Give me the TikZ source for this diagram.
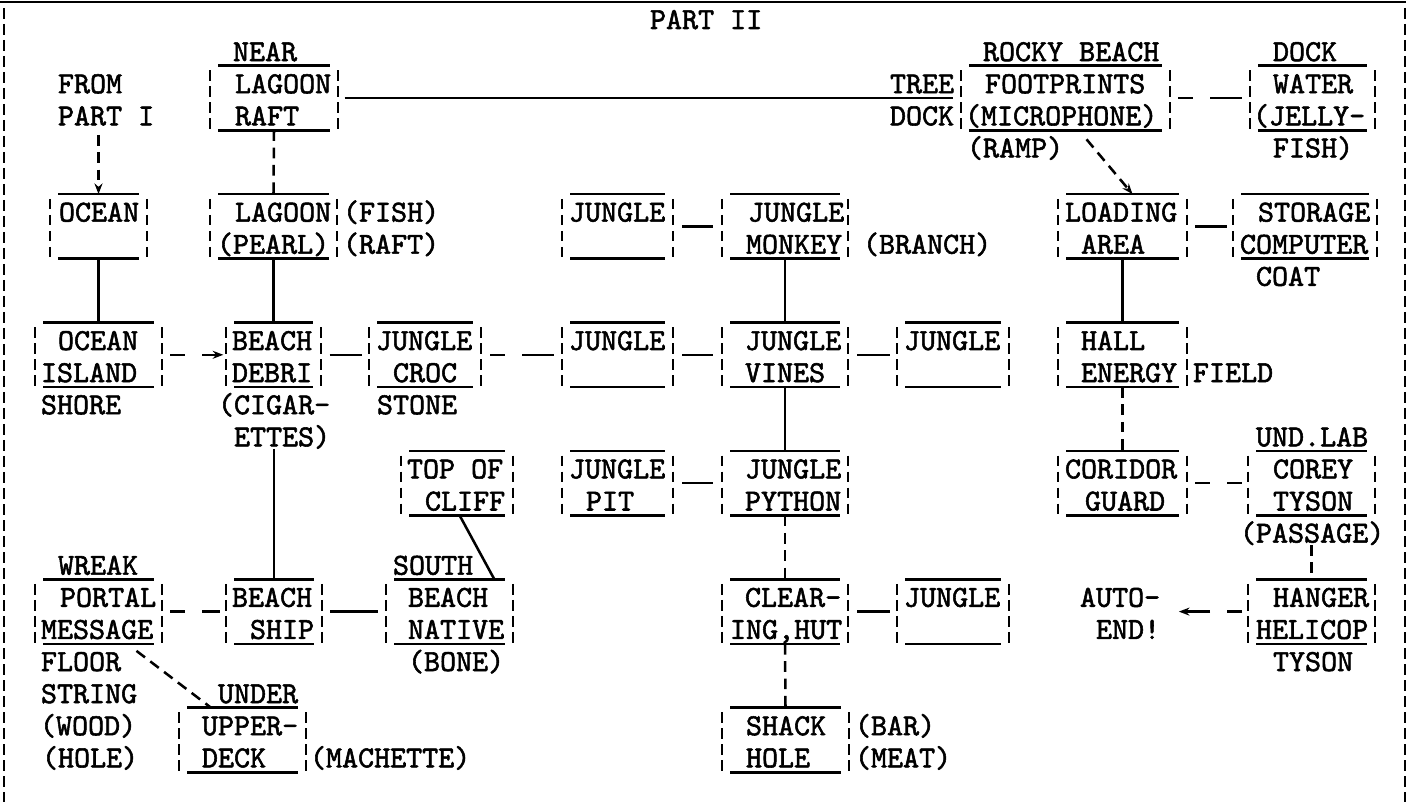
\documentclass[tikz,border=0pt]{standalone}
\usepackage{fontspec}
\newfontfamily\tw{lmmono10-regular}[Extension=.otf,FakeBold=1.8]
\usetikzlibrary{fit,calc,arrows.meta}
\tikzset{
  txt/.style={anchor=base west,inner sep=0pt,outer sep=0pt,font=\tw\fontsize{22.9}{27}\selectfont},
  boxline/.style={line width=1.9pt},
  barline/.style={line width=1.9pt,dash pattern=on 8pt off 4pt},
  sline/.style={line width=1.9pt},
  dline/.style={line width=1.9pt,dash pattern=on 11.25pt off 12.75pt on 40pt off 1pt},
  vline/.style={line width=1.9pt,dash pattern=on 8pt off 5pt},
  arr/.style={-{Stealth[length=8pt,width=6pt]}}
}
\newcommand\mkroom[5]{%
  \node[fit={(#2,{row(#4)-18.5}) (#3,{row(#5)+14})},inner sep=0pt,outer sep=0pt] (#1) {};
  \draw[boxline] ([xshift=6pt]#1.north west) -- ([xshift=-6pt]#1.north east);
  \draw[boxline] ([xshift=6pt]#1.south west) -- ([xshift=-6pt]#1.south east);
  \draw[barline] ([yshift=-3.5pt]#1.north west) -- (#1.south west);
  \draw[barline] ([yshift=-3.5pt]#1.north east) -- (#1.south east);
}
\newcommand\mktext[4]{\node[txt] (#1) at ({#2},{row(#3)+9}) {#4};}
\begin{document}
\begin{tikzpicture}[x=0.75pt,y=-0.75pt,declare function={row(\k)=20+32.1*\k;}]
\useasboundingbox (0,0) rectangle (1411,802);
% frame
\draw[line width=2.2pt] (0,2) -- (1406,2);
\draw[barline] (4,8) -- (4,802);
\draw[barline] (1405,8) -- (1405,802);

% rooms
\mkroom{near}{210}{338}{2}{3}
\mkroom{rocky}{961}{1170}{2}{3}
\mkroom{dock}{1250}{1375}{2}{3}
\mkroom{ocean}{50}{147}{6}{7}
\mkroom{lagoon}{210}{337}{6}{7}
\mkroom{jtop}{562}{673}{6}{7}
\mkroom{monkey}{722}{848}{6}{7}
\mkroom{loading}{1058}{1187}{6}{7}
\mkroom{storage}{1233}{1377}{6}{7}
\mkroom{island}{35}{162}{10}{11}
\mkroom{beach}{226}{321}{10}{11}
\mkroom{croc}{369}{481}{10}{11}
\mkroom{ja}{562}{673}{10}{11}
\mkroom{vines}{722}{848}{10}{11}
\mkroom{jb}{897}{1009}{10}{11}
\mkroom{hall}{1058}{1187}{10}{11}
\mkroom{cliff}{401}{513}{14}{15}
\mkroom{pit}{562}{673}{14}{15}
\mkroom{python}{722}{848}{14}{15}
\mkroom{coridor}{1058}{1187}{14}{15}
\mkroom{corey}{1248}{1375}{14}{15}
\mkroom{wreak}{35}{162}{18}{19}
\mkroom{ship}{226}{322}{18}{19}
\mkroom{southb}{386}{513}{18}{19}
\mkroom{clearing}{722}{848}{18}{19}
\mkroom{jc}{897}{1009}{18}{19}
\mkroom{hanger}{1248}{1375}{18}{19}
\mkroom{shack}{722}{849}{22}{23}
\mkroom{upper}{179}{306}{22}{23}

% texts
\mktext{tP2}{650}{0}{PART II}
\mktext{tNear}{233}{1}{NEAR}
\mktext{tRockyB}{983}{1}{ROCKY BEACH}
\mktext{tDockA}{1273}{1}{DOCK}
\mktext{tFrom}{58}{2}{FROM}
\mktext{tLagA}{235}{2}{LAGOON}
\mktext{tTree}{890}{2}{TREE}
\mktext{tFoot}{985}{2}{FOOTPRINTS}
\mktext{tWater}{1273}{2}{WATER}
\mktext{tPartI}{58}{3}{PART I}
\mktext{tRaftA}{235}{3}{RAFT}
\mktext{tDockB}{890}{3}{DOCK}
\mktext{tMic}{965}{3}{(MICROPHONE)}
\mktext{tJelly}{1253}{3}{(JELLY-}
\mktext{tRamp}{967}{4}{(RAMP)}
\mktext{tFishB}{1273}{4}{FISH)}
\mktext{tOceanA}{59}{6}{OCEAN}
\mktext{tLagB}{235}{6}{LAGOON}
\mktext{tFishA}{343}{6}{(FISH)}
\mktext{tJa}{569}{6}{JUNGLE}
\mktext{tJb}{748}{6}{JUNGLE}
\mktext{tLoad}{1065}{6}{LOADING}
\mktext{tStor}{1258}{6}{STORAGE}
\mktext{tPearl}{217}{7}{(PEARL)}
\mktext{tRaftB}{343}{7}{(RAFT)}
\mktext{tMonkey}{746}{7}{MONKEY}
\mktext{tBranch}{863}{7}{(BRANCH)}
\mktext{tArea}{1081}{7}{AREA}
\mktext{tComp}{1240}{7}{COMPUTER}
\mktext{tCoat}{1256}{8}{COAT}
\mktext{tOceanB}{58}{10}{OCEAN}
\mktext{tBeachA}{232}{10}{BEACH}
\mktext{tJc}{376}{10}{JUNGLE}
\mktext{tJd}{569}{10}{JUNGLE}
\mktext{tJe}{745}{10}{JUNGLE}
\mktext{tJf}{904}{10}{JUNGLE}
\mktext{tHall}{1081}{10}{HALL}
\mktext{tIsland}{41}{11}{ISLAND}
\mktext{tDebri}{232}{11}{DEBRI}
\mktext{tCroc}{393}{11}{CROC}
\mktext{tVines}{745}{11}{VINES}
\mktext{tEnergy}{1081}{11}{ENERGY}
\mktext{tField}{1193}{11}{FIELD}
\mktext{tShore}{41}{12}{SHORE}
\mktext{tCigar}{218}{12}{(CIGAR-}
\mktext{tStone}{377}{12}{STONE}
\mktext{tEttes}{234}{13}{ETTES)}
\mktext{tUnd}{1256}{13}{UND.LAB}
\mktext{tTop}{407}{14}{TOP OF}
\mktext{tJg}{569}{14}{JUNGLE}
\mktext{tJh}{745}{14}{JUNGLE}
\mktext{tCori}{1065}{14}{CORIDOR}
\mktext{tCorey}{1273}{14}{COREY}
\mktext{tCliff}{425}{15}{CLIFF}
\mktext{tPit}{586}{15}{PIT}
\mktext{tPython}{745}{15}{PYTHON}
\mktext{tGuard}{1085}{15}{GUARD}
\mktext{tTysonA}{1273}{15}{TYSON}
\mktext{tPassage}{1240}{16}{(PASSAGE)}
\mktext{tWreak}{58}{17}{WREAK}
\mktext{tSouth}{393}{17}{SOUTH}
\mktext{tPortal}{60}{18}{PORTAL}
\mktext{tBeachB}{232}{18}{BEACH}
\mktext{tBeachC}{408}{18}{BEACH}
\mktext{tClear}{745}{18}{CLEAR-}
\mktext{tJi}{904}{18}{JUNGLE}
\mktext{tAuto}{1080}{18}{AUTO-}
\mktext{tHanger}{1273}{18}{HANGER}
\mktext{tMessage}{41}{19}{MESSAGE}
\mktext{tShip}{250}{19}{SHIP}
\mktext{tNative}{408}{19}{NATIVE}
\mktext{tIng}{730}{19}{ING,HUT}
\mktext{tEnd}{1096}{19}{END!}
\mktext{tHeli}{1256}{19}{HELICOP}
\mktext{tFloor}{41}{20}{FLOOR}
\mktext{tBone}{408}{20}{(BONE)}
\mktext{tTysonB}{1273}{20}{TYSON}
\mktext{tString}{41}{21}{STRING}
\mktext{tUnder}{218}{21}{UNDER}
\mktext{tWood}{40}{22}{(WOOD)}
\mktext{tUpper}{202}{22}{UPPER-}
\mktext{tShack}{746}{22}{SHACK}
\mktext{tBar}{855}{22}{(BAR)}
\mktext{tHole}{42}{23}{(HOLE)}
\mktext{tDeck}{202}{23}{DECK}
\mktext{tMach}{310}{23}{(MACHETTE)}
\mktext{tHoleB}{746}{23}{HOLE}
\mktext{tMeat}{855}{23}{(MEAT)}

% connectors
\draw[sline,shorten <=5pt,shorten >=6pt] (near.east) -- (rocky.west);
\draw[vline] (near.south) -- (lagoon.north);
\draw[sline] (lagoon.south) -- (beach.north);
\draw[sline] (ocean.south) -- (island.north);
\draw[vline,arr,shorten <=7pt] (tPartI.south -| ocean.north) -- (ocean.north);
\draw[dline,arr,shorten <=6pt,shorten >=2pt] (island.east) -- (beach.west);
\draw[sline,shorten <=6.5pt,shorten >=5pt] (beach.east) -- (croc.west);
\draw[dline,shorten <=7pt,shorten >=6pt] (croc.east) -- (ja.west);
\draw[sline,shorten <=7pt,shorten >=6.5pt] (ja.east) -- (vines.west);
\draw[sline,shorten <=7pt,shorten >=5pt] (vines.east) -- (jb.west);
\draw[sline,shorten <=7pt,shorten >=6.5pt] (jtop.east) -- (monkey.west);
\draw[sline] (monkey.south) -- (vines.north);
\draw[sline] (vines.south) -- (python.north);
\draw[sline,shorten <=7pt,shorten >=6.5pt] (pit.east) -- (python.west);
\draw[vline] (python.south) -- (clearing.north);
\draw[sline,shorten <=7pt,shorten >=5pt] (clearing.east) -- (jc.west);
\draw[vline] (clearing.south) -- (shack.north);
\draw[sline] (ship.north |- tEttes.south) -- (ship.north);
\draw[sline] ([xshift=2pt]cliff.south) -- ([xshift=-14pt]southb.north east);
\draw[sline,shorten <=6pt,shorten >=6pt] (ship.east) -- (southb.west);
\draw[dline,shorten <=6pt,shorten >=4.5pt] (wreak.east) -- (ship.west);
\draw[vline] ($(wreak.south)+(38,7)$) -- ($(upper.north west)+(32,0)$);
\draw[vline,arr] ($(rocky.south)+(21,9)$) -- ($(loading.north)+(10,0)$);
\draw[dline,shorten <=6pt,shorten >=6pt] (rocky.east) -- (dock.west);
\draw[sline,shorten <=6pt,shorten >=4.5pt] (loading.east) -- (storage.west);
\draw[sline] (loading.south) -- (hall.north);
\draw[vline] (hall.south) -- (coridor.north);
\draw[dline,shorten <=6pt,shorten >=4.5pt] (coridor.east) -- (corey.west);
\draw[vline] (hanger.north |- tPassage.south) -- (hanger.north);
\draw[dline,arr,shorten <=4.5pt,shorten >=14pt] (hanger.west) -- (hanger.west -| tAuto.east);
\end{tikzpicture}
\end{document}
